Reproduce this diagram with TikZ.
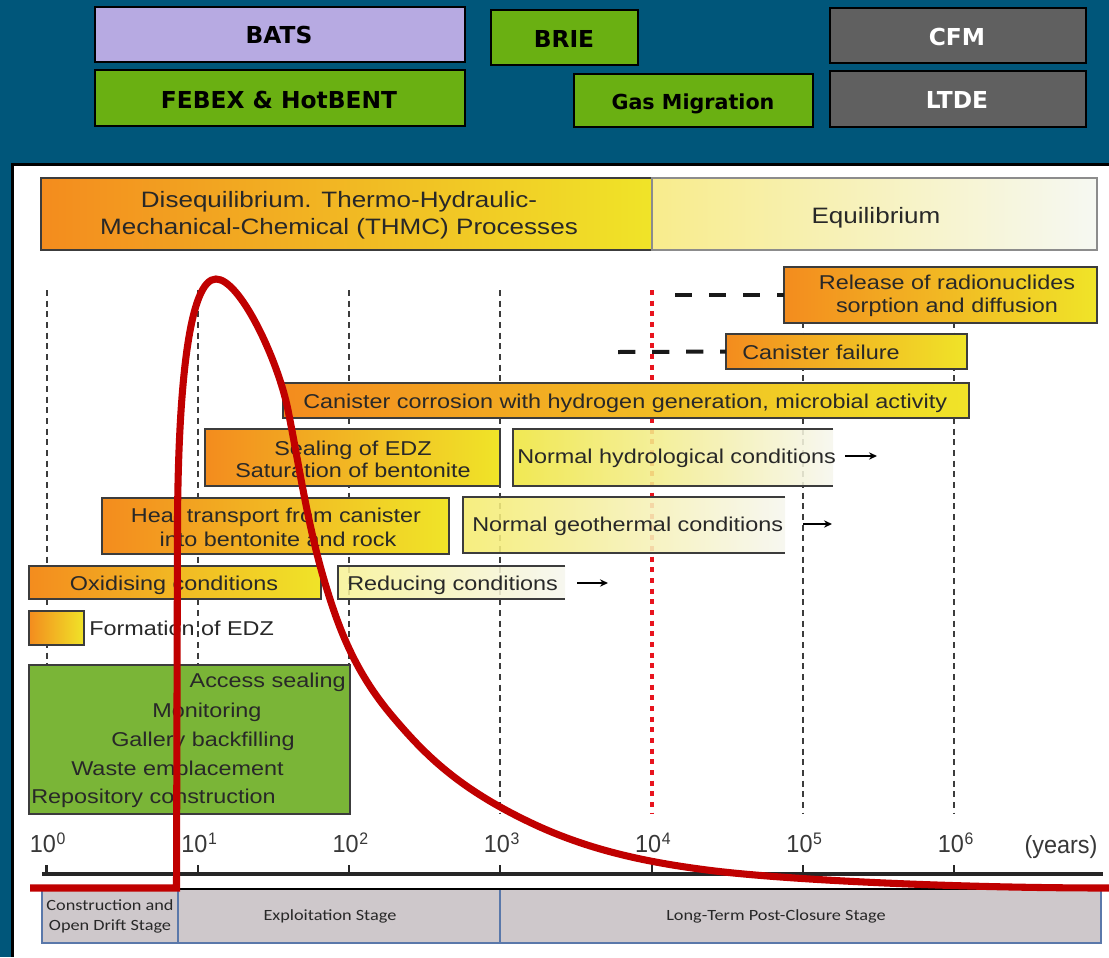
\documentclass[tikz,border=0pt]{standalone}
\usepackage{fontspec}
\usetikzlibrary{arrows.meta}

\newfontfamily\chartfont[FakeStretch=1.17]{Liberation Sans}
\newfontfamily\axisfont[FakeStretch=0.95]{Liberation Sans}
\newfontfamily\stagefont[FakeStretch=1.17]{Carlito}
\newfontfamily\tabfont{DejaVu Sans}

\definecolor{slideblue}{RGB}{0,86,122}
\definecolor{batslav}{RGB}{183,170,226}
\definecolor{tabgreen}{RGB}{106,176,18}
\definecolor{tabgray}{RGB}{96,96,96}
\definecolor{hotorange}{RGB}{243,140,30}
\definecolor{hotyellow}{RGB}{240,228,40}
\definecolor{paleA}{RGB}{240,230,60}
\definecolor{paleB}{RGB}{245,236,110}
\definecolor{paleC}{RGB}{248,242,150}
\definecolor{paleend}{RGB}{246,246,238}
\definecolor{eqstart}{RGB}{248,236,140}
\definecolor{eqend}{RGB}{246,248,242}
\definecolor{workgreen}{RGB}{122,181,55}
\definecolor{inkgray}{RGB}{40,40,40}
\definecolor{boxedge}{RGB}{60,60,60}
\definecolor{curvered}{RGB}{192,0,0}
\definecolor{dotred}{RGB}{232,20,30}
\definecolor{stagefill}{RGB}{206,200,203}
\definecolor{stageedge}{RGB}{90,120,170}

% box given by its top-left and bottom-right corners (pixel grid, y downwards)
\newcommand\chartbox[6]{%
  \node[#1, inner sep=0pt, outer sep=0pt, anchor=north west,
        minimum width={(#5-#3)*0.75pt}, minimum height={(#6-#4)*0.75pt}] (#2) at (#3,#4) {};}

% decade label: 10 with a small raised exponent
\newcommand\decadelabel[1]{10\rlap{\hspace{0.5pt}\raisebox{6pt}{\fontsize{12.5}{12.5}\selectfont #1}}}

\tikzset{
  tabbox/.style={draw=black, line width=2pt},
  tablabel/.style={font=\tabfont\bfseries\fontsize{17.5}{20}\selectfont, anchor=base, inner sep=0pt},
  hotbox/.style={draw=boxedge, line width=1.4pt, left color=hotorange, right color=hotyellow},
  eqbox/.style={draw=black!45, line width=1.4pt, left color=eqstart, right color=eqend},
  palebox/.style={left color=paleA, right color=paleend, fill opacity=0.88},
  paleedge/.style={draw=boxedge, line width=1.4pt},
  workbox/.style={draw=boxedge, line width=1.4pt, fill=workgreen},
  stagebox/.style={draw=stageedge, line width=0.9pt, fill=stagefill},
  bandlbl/.style={font=\chartfont\fontsize{16.7}{20}\selectfont, text=inkgray, anchor=base, inner sep=0pt},
  lbl/.style={font=\chartfont\fontsize{15}{18}\selectfont, text=inkgray, anchor=base, inner sep=0pt},
  stagelbl/.style={font=\stagefont\fontsize{11.7}{14}\selectfont, text=inkgray, anchor=base, inner sep=0pt},
  axislbl/.style={font=\axisfont\fontsize{18.5}{22}\selectfont, text=black!78, anchor=base, inner sep=0pt},
  decade/.style={draw=boxedge, line width=1.5pt, dash pattern=on 4.5pt off 3.5pt},
  reddots/.style={draw=dotred, line width=3.3pt, dash pattern=on 3.75pt off 4.25pt},
  waitdash/.style={draw=black!90, line width=3pt, dash pattern=on 13pt off 12.5pt},
  tailarrow/.style={draw=black, line width=1.1pt, -{Stealth[length=6pt,width=5.5pt]}},
  axisline/.style={draw=black!85, line width=2.4pt},
  tick/.style={draw=black!85, line width=1.6pt},
  curve/.style={draw=curvered, line width=5.3pt}
}

\begin{document}
\begin{tikzpicture}[x=0.75pt,y=-0.75pt]
\useasboundingbox (0,0) rectangle (1109,957);

% slide background and chart panel
\fill[slideblue] (0,0) rectangle (1109,957);
\fill[black] (11,163) rectangle (1109,957);
\fill[white] (14,166) rectangle (1109,957);

% project tabs
\chartbox{tabbox, fill=batslav}{bats}{95}{7}{465}{62}
\chartbox{tabbox, fill=tabgreen}{brie}{491}{10}{638}{65}
\chartbox{tabbox, fill=tabgray}{cfm}{830}{8}{1086}{63}
\chartbox{tabbox, fill=tabgreen}{febex}{95}{70}{465}{126}
\chartbox{tabbox, fill=tabgreen}{gas}{574}{74}{813}{127}
\chartbox{tabbox, fill=tabgray}{ltde}{830}{71}{1086}{127}
\node[tablabel] (batsT) at (279,43) {BATS};
\node[tablabel] (brieT) at (564,47) {BRIE};
\node[tablabel, text=white] (cfmT) at (957,45) {CFM};
\node[tablabel] (febexT) at (279,108) {FEBEX \& HotBENT};
\node[tablabel, font=\tabfont\bfseries\fontsize{15.5}{18}\selectfont] (gasT) at (693,109) {Gas Migration};
\node[tablabel, text=white] (ltdeT) at (957,108) {LTDE};

% top band
\chartbox{hotbox}{dis}{41}{178}{652}{250}
\chartbox{eqbox}{equ}{652}{178}{1097}{250}
\node[bandlbl] (disA) at (339,207) {Disequilibrium. Thermo-Hydraulic-};
\node[bandlbl] (disB) at (339,234) {Mechanical-Chemical (THMC) Processes};
\node[bandlbl] (equT) at (876,223) {Equilibrium};

% decade grid lines
\foreach \k in {0,...,6}{
  \pgfmathsetmacro\xk{46.5+151.3*\k}
  \coordinate (t\k) at (\xk,290);
  \coordinate (b\k) at (\xk,813);
  \coordinate (a\k) at (\xk,874);
}
\foreach \k in {0,1,2,3,5,6} \draw[decade] (t\k) -- (b\k);
\draw[reddots] (t4) -- (b4);

% process bars
\chartbox{hotbox}{rel}{784}{267}{1097}{323}
\chartbox{hotbox}{fail}{726}{334}{967}{369}
\chartbox{hotbox}{corr}{283}{383}{969}{418}
\chartbox{hotbox}{seal}{205}{429}{500}{486}
\chartbox{palebox}{hyd}{513}{429}{833}{486}
\chartbox{hotbox}{heat}{102}{498}{449}{554}
\chartbox{palebox, left color=paleB}{geo}{463}{497}{785}{553}
\chartbox{hotbox}{oxi}{29}{566}{321}{599}
\chartbox{palebox, left color=paleC}{redu}{338}{566}{565}{599}
\chartbox{hotbox}{edz}{29}{611}{84}{645}
\chartbox{workbox}{work}{29}{665}{350}{814}
\foreach \b in {hyd,geo,redu}
  \draw[paleedge] (\b.north east) -- (\b.north west) -- (\b.south west) -- (\b.south east);

% onset dashes
\coordinate (relD) at (675,295);
\coordinate (failD) at (618,352);
\draw[waitdash] (relD) -- (rel.west);
\draw[waitdash] (failD) -- (fail.west);

% continuation arrows
\coordinate (hydA) at (845,456); \coordinate (hydB) at (877,456);
\coordinate (geoA) at (803,524); \coordinate (geoB) at (832,524);
\coordinate (reduA) at (577,583); \coordinate (reduB) at (608,583);
\draw[tailarrow] (hydA) -- (hydB);
\draw[tailarrow] (geoA) -- (geoB);
\draw[tailarrow] (reduA) -- (reduB);

% bar labels
\node[lbl] (relA) at (947,289) {Release of radionuclides};
\node[lbl] (relB) at (947,312) {sorption and diffusion};
\node[lbl, anchor=base west] (failT) at (742,359) {Canister failure};
\node[lbl, anchor=base west] (corrT) at (303,408) {Canister corrosion with hydrogen generation, microbial activity};
\node[lbl] (sealA) at (353,455) {Sealing of EDZ};
\node[lbl] (sealB) at (353,477) {Saturation of bentonite};
\node[lbl, anchor=base west] (hydT) at (517,463) {Normal hydrological conditions};
\node[lbl] (heatA) at (276,522) {Heat transport from canister};
\node[lbl] (heatB) at (278,546) {into bentonite and rock};
\node[lbl, anchor=base west] (geoT) at (472,531) {Normal geothermal conditions};
\node[lbl] (oxiT) at (174,590) {Oxidising conditions};
\node[lbl, anchor=base west] (reduT) at (347,590) {Reducing conditions};
\node[lbl, anchor=base west] (edzT) at (89,635) {Formation of EDZ};
\node[lbl, anchor=base east] (wk1) at (346,687) {Access sealing};
\node[lbl, anchor=base west] (wk2) at (152,717) {Monitoring};
\node[lbl, anchor=base west] (wk3) at (111,746) {Gallery backfilling};
\node[lbl, anchor=base west] (wk4) at (71,775) {Waste emplacement};
\node[lbl, anchor=base west] (wk5) at (31,803) {Repository construction};

% time axis
\coordinate (axL) at (42,874);
\coordinate (axR) at (1103,874);
\draw[axisline] (axL) -- (axR);
\foreach \k in {0,...,6}{
  \draw[tick] (a\k) -- ++(0,-9);
  \pgfmathsetmacro\xl{43+151.3*\k}
  \node[axislbl] (lab\k) at (\xl,852) {\decadelabel{\k}};
}
\node[axislbl] (yrs) at (1061,853) {(years)};

% repository stages
\chartbox{stagebox}{st1}{42}{889}{178}{943}
\chartbox{stagebox}{st2}{178}{889}{500}{943}
\chartbox{stagebox}{st3}{500}{889}{1101}{943}
\draw[black, line width=1.2pt] (st1.north west) -- (st3.north east);
\node[stagelbl] (st1a) at (110,910) {Construction and};
\node[stagelbl] (st1b) at (110,930) {Open Drift Stage};
\node[stagelbl] (st2T) at (330,920) {Exploitation Stage};
\node[stagelbl] (st3T) at (776,920) {Long-Term Post-Closure Stage};

% pulse curve
\draw[curve] (30,888) -- (176.5,888) -- (177.5,520)
  .. controls (178.5,380) and (190,279) .. (216,279)
  .. controls (240,279) and (278,360) .. (288,410)
  .. controls (299.6,468) and (307.6,525) .. (325,583)
  .. controls (338.5,628) and (354.75,672) .. (393,717)
  .. controls (424.5,754) and (458.6,790) .. (540,827)
  .. controls (596,852) and (651,862.7) .. (707,870)
  .. controls (780,879.5) and (950,888) .. (1109,888);
\end{tikzpicture}
\end{document}
